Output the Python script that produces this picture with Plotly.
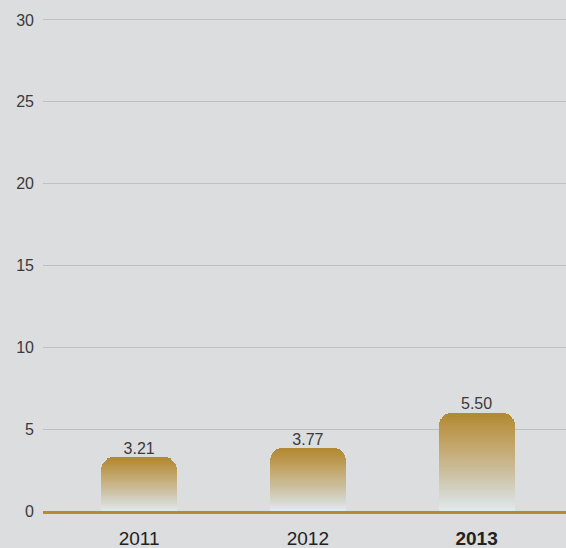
import plotly.graph_objects as go

years = ["2011", "2012", "2013"]
tick_text = ["2011", "2012", "<b>2013</b>"]
bar_values = [3.24, 3.8, 6.0]
label_text = ["3.21", "3.77", "5.50"]
y_ticks = [0, 5, 10, 15, 20, 25, 30]

# gradient stops (fraction from bottom, rgb)
stops = [(0.0, (224, 236, 240)), (0.12, (216, 220, 216)), (0.35, (206, 196, 168)),
         (0.65, (196, 168, 110)), (1.0, (178, 137, 50))]

def grad(f):
    for (a, ca), (b, cb) in zip(stops[:-1], stops[1:]):
        if a <= f <= b:
            t = (f - a) / (b - a)
            c = [round(ca[k] + (cb[k] - ca[k]) * t) for k in range(3)]
            return f"rgb({c[0]},{c[1]},{c[2]})"
    return "rgb(178,137,50)"

N = 60
fig = go.Figure()
for i in range(N):
    fig.add_trace(go.Bar(
        x=years, y=[v / N for v in bar_values],
        marker=dict(color=grad((i + 0.5) / N), line=dict(width=0)),
        width=0.45, showlegend=False, hoverinfo="skip"))

fig.add_trace(go.Scatter(
    x=years, y=bar_values, mode="text", text=label_text,
    textposition="top center",
    textfont=dict(family="Liberation Sans, Arial, sans-serif", size=16, color="#3a3a3a"),
    showlegend=False, hoverinfo="skip"))

fig.update_layout(
    width=566, height=548,
    margin=dict(l=43, r=0, t=18, b=37),
    paper_bgcolor="#dcdddf", plot_bgcolor="#dcdddf",
    barmode="stack", bargap=0, barcornerradius=12,
    font=dict(family="Liberation Sans, Arial, sans-serif"),
)
fig.update_xaxes(
    type="category", range=[-0.57, 2.53],
    tickvals=years, ticktext=tick_text,
    tickfont=dict(size=19, color="#222222"),
    showgrid=False, showline=True, linecolor="#b58b32", linewidth=3,
    ticks="", zeroline=False, ticklabelstandoff=8,
)
fig.update_yaxes(
    range=[0, 30.12], tickvals=y_ticks,
    tickfont=dict(size=16, color="#3a3a3a"),
    showgrid=True, gridcolor="#bfc0c2", gridwidth=1,
    zeroline=False, showline=False, ticks="", ticklabelstandoff=8,
)
fig.write_html("out.html", config={"displayModeBar": False},
               post_script="document.body.style.margin='0';")
